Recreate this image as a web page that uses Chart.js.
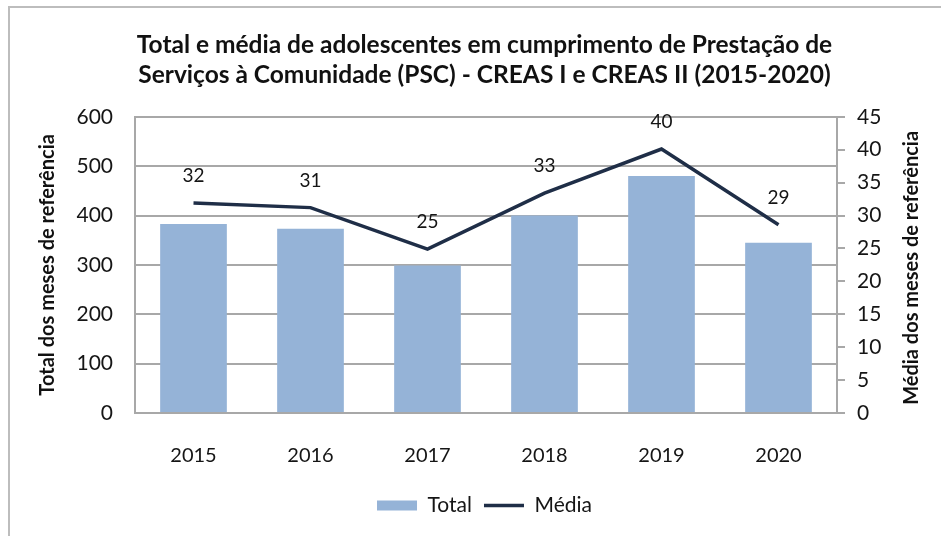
<!DOCTYPE html>
<html>
<head>
<meta charset="utf-8">
<script src="https://cdn.jsdelivr.net/npm/chart.js@4"></script>
<style>
  html, body { margin: 0; padding: 0; background: #fff; }
  #wrap { position: relative; width: 941px; height: 536px; }
  #frame { position: absolute; left: 8px; top: 6px; right: -4px; bottom: -4px;
           border-left: 2px solid #bdbdbd; border-top: 2px solid #bdbdbd; }
  canvas { position: absolute; left: 0; top: 0; }
</style>
</head>
<body>
<div id="wrap">
  <div id="frame"></div>
  <canvas id="chart" width="941" height="536"></canvas>
</div>
<script>
const years = ["2015", "2016", "2017", "2018", "2019", "2020"];
const totals = [383, 373, 299, 400, 480, 345];
const medias = [31.9, 31.2, 24.9, 33.4, 40.1, 28.6];
const totalTicks = [0, 100, 200, 300, 400, 500, 600];
const mediaTicks = [0, 5, 10, 15, 20, 25, 30, 35, 40, 45];

const FONT = "Lato, 'Open Sans', sans-serif";
const GRID = "#a8a8a8";
const INK = "#151515";

// labels above the line points
const lineLabels = {
  id: "lineLabels",
  afterDatasetsDraw(chart) {
    const meta = chart.getDatasetMeta(1);
    const ctx = chart.ctx;
    ctx.save();
    ctx.font = "19px " + FONT;
    ctx.fillStyle = INK;
    ctx.textAlign = "center";
    ctx.textBaseline = "middle";
    meta.data.forEach((pt, i) => {
      ctx.fillText(String(Math.round(medias[i])), pt.x, pt.y - 27);
    });
    ctx.restore();
  }
};

// right axis title reads bottom-to-top like the left one
const rightTitle = {
  id: "rightTitle",
  afterDraw(chart) {
    const area = chart.chartArea;
    const ctx = chart.ctx;
    ctx.save();
    ctx.translate(912, (area.top + area.bottom) / 2 + 3);
    ctx.rotate(-Math.PI / 2);
    ctx.font = "bold 20px " + FONT;
    ctx.fillStyle = "#111";
    ctx.textAlign = "center";
    ctx.textBaseline = "middle";
    ctx.fillText("Média dos meses de referência", 0, 0);
    ctx.restore();
  }
};

new Chart(document.getElementById("chart"), {
  type: "bar",
  data: {
    labels: years,
    datasets: [{
      label: "Total",
      data: totals,
      yAxisID: "y",
      backgroundColor: "#95b3d7",
      borderWidth: 0,
      barPercentage: 0.57,
      categoryPercentage: 1,
      order: 2,
      pointStyle: "rect"
    }, {
      type: "line",
      label: "Média",
      data: medias,
      yAxisID: "y1",
      borderColor: "#1f2e47",
      backgroundColor: "#1f2e47",
      borderWidth: 3.5,
      pointRadius: 0,
      tension: 0,
      order: 1,
      pointStyle: "line"
    }]
  },
  options: {
    responsive: false,
    animation: false,
    layout: { padding: { left: 28, right: 0, top: 0, bottom: 10 } },
    plugins: {
      tooltip: { enabled: false },
      title: {
        display: true,
        text: ["Total e média de adolescentes em cumprimento de Prestação de",
               "Serviços à Comunidade (PSC) - CREAS I e CREAS II (2015-2020)"],
        font: { family: FONT, size: 24.5, weight: "bold", lineHeight: 1.22 },
        color: "#111",
        padding: { top: 30, bottom: 27 }
      },
      legend: {
        position: "bottom",
        labels: {
          usePointStyle: true,
          pointStyleWidth: 40,
          boxHeight: 10,
          padding: 12,
          color: INK,
          font: { family: FONT, size: 21 },
          sort: (a, b) => a.datasetIndex - b.datasetIndex
        }
      }
    },
    scales: {
      x: {
        grid: { display: false },
        border: { display: true, color: GRID, width: 2 },
        ticks: { color: INK, font: { family: FONT, size: 20 }, padding: 23 },
        afterFit(scale) { scale.height = 70; }
      },
      y: {
        position: "left",
        min: 0, max: 600,
        afterBuildTicks(scale) { scale.ticks = totalTicks.map(v => ({ value: v })); },
        grid: { color: GRID, lineWidth: 2, drawTicks: false },
        border: { display: true, color: GRID, width: 2 },
        ticks: { color: INK, font: { family: FONT, size: 21 }, padding: 22 },
        title: {
          display: true,
          text: "Total dos meses de referência",
          color: "#111",
          font: { family: FONT, size: 20, weight: "bold" },
          padding: { top: 8 }
        },
        afterFit(scale) { scale.width = 135 - 28; }
      },
      y1: {
        position: "right",
        min: 0, max: 45,
        afterBuildTicks(scale) { scale.ticks = mediaTicks.map(v => ({ value: v })); },
        grid: { drawOnChartArea: false, color: GRID, lineWidth: 2, tickLength: 8 },
        border: { display: true, color: GRID, width: 2 },
        ticks: { color: INK, font: { family: FONT, size: 21 }, padding: 12 },
        afterFit(scale) { scale.width = 104; }
      }
    }
  },
  plugins: [lineLabels, rightTitle]
});
</script>
</body>
</html>
